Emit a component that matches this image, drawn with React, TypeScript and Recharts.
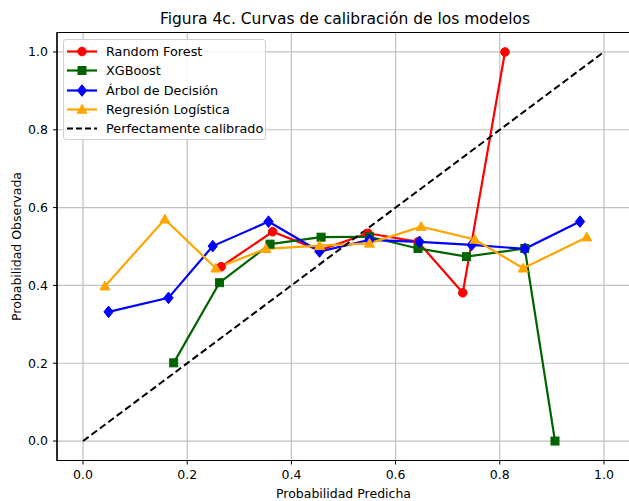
import React from 'react';
import { LineChart, Line, XAxis, YAxis, CartesianGrid, ReferenceArea } from 'recharts';

// Random Forest
const rfX = [0.265, 0.364, 0.454, 0.547, 0.643, 0.729, 0.81];
const rfY = [0.448, 0.538, 0.49, 0.534, 0.512, 0.381, 1.0];
// XGBoost
const xgbX = [0.174, 0.262, 0.359, 0.457, 0.55, 0.643, 0.736, 0.848, 0.906];
const xgbY = [0.201, 0.407, 0.506, 0.524, 0.525, 0.495, 0.474, 0.495, 0.0];
// Árbol de Decisión
const dtX = [0.049, 0.164, 0.249, 0.356, 0.454, 0.55, 0.646, 0.746, 0.848, 0.954];
const dtY = [0.332, 0.368, 0.501, 0.564, 0.487, 0.517, 0.512, 0.504, 0.494, 0.564];
// Regresión Logística
const lrX = [0.042, 0.157, 0.255, 0.351, 0.454, 0.55, 0.649, 0.752, 0.845, 0.967];
const lrY = [0.398, 0.57, 0.444, 0.494, 0.502, 0.508, 0.551, 0.518, 0.444, 0.524];
// Perfectamente calibrado
const perfX = [0, 1];
const perfY = [0, 1];

const ticks = [0, 0.2, 0.4, 0.6, 0.8, 1.0];

const seriesNames = ['Random Forest', 'XGBoost', 'Árbol de Decisión', 'Regresión Logística', 'Perfectamente calibrado'];
const colors = ['#ff0000', '#006400', '#0000ff', '#ffa500', '#000000'];

const zip = (xs: number[], ys: number[]) => xs.map((x, i) => ({ x, y: ys[i] }));

const FONT = '"DejaVu Sans", sans-serif';

type Shape = 'circle' | 'square' | 'diamond' | 'triangle' | 'none';
const shapes: Shape[] = ['circle', 'square', 'diamond', 'triangle', 'none'];

function marker(shape: Shape, cx: number, cy: number, color: string, key?: any) {
  if (shape === 'circle') return <circle key={key} cx={cx} cy={cy} r={4.3} fill={color} stroke={color} />;
  if (shape === 'square') return <rect key={key} x={cx - 4} y={cy - 4} width={8} height={8} fill={color} stroke={color} />;
  if (shape === 'diamond') {
    const s = 5.8;
    return <polygon key={key} points={`${cx},${cy - s} ${cx + s * 0.8},${cy} ${cx},${cy + s} ${cx - s * 0.8},${cy}`} fill={color} stroke={color} />;
  }
  if (shape === 'triangle') {
    const s = 5;
    return <polygon key={key} points={`${cx},${cy - s} ${cx + s},${cy + s * 0.75} ${cx - s},${cy + s * 0.75}`} fill={color} stroke={color} />;
  }
  return <g key={key} />;
}

const dotFor = (shape: Shape, color: string) => (props: any) => {
  const { cx, cy, index } = props;
  return marker(shape, cx, cy, color, `d-${index}`);
};

const Legend = () => (
  <div
    style={{
      position: 'absolute',
      left: 63,
      top: 39,
      width: 203,
      height: 101,
      border: '1px solid #d0d0d0',
      borderRadius: 3,
      background: 'rgba(255,255,255,0.85)',
      fontFamily: FONT,
      fontSize: 12.8,
      color: '#000',
      boxSizing: 'border-box',
    }}
  >
    {seriesNames.map((n, i) => (
      <div key={n} style={{ position: 'absolute', left: 0, top: 2 + i * 19.3, height: 19, display: 'flex', alignItems: 'center' }}>
        <svg width={40} height={19} style={{ display: 'block' }}>
          <line x1={3} x2={33} y1={9.5} y2={9.5} stroke={colors[i]} strokeWidth={2.2} strokeDasharray={i === 4 ? '6 3' : undefined} />
          {marker(shapes[i], 18, 9.5, colors[i])}
        </svg>
        <span style={{ marginLeft: 2, whiteSpace: 'nowrap' }}>{n}</span>
      </div>
    ))}
  </div>
);

export default function App() {
  const tickStyle = { fontSize: 12.5, fill: '#000', fontFamily: FONT };
  const labelStyle = { fontSize: 12.5, fill: '#000', fontFamily: FONT };
  const fmt = (v: number) => v.toFixed(1);
  return (
    <div style={{ position: 'absolute', left: 0, top: 0, width: 629, height: 501, overflow: 'hidden', background: '#fff' }}>
      <div
        style={{
          position: 'absolute',
          left: 0,
          width: 690,
          top: 10,
          textAlign: 'center',
          fontFamily: FONT,
          fontSize: 15.5,
          lineHeight: '18px',
          color: '#000',
          whiteSpace: 'nowrap',
        }}
      >
        Figura 4c. Curvas de calibración de los modelos
      </div>
      <div style={{ position: 'absolute', left: 0, top: 0 }}>
        <LineChart width={631} height={501} margin={{ top: 32.5, right: 1, left: 0, bottom: 0 }}>
          <CartesianGrid stroke="#c0c0c0" strokeWidth={1.2} />
          <XAxis
            type="number"
            dataKey="x"
            domain={[-0.05, 1.05]}
            ticks={ticks}
            tickFormatter={fmt}
            allowDataOverflow
            height={40.5}
            tick={tickStyle}
            tickSize={4}
            tickMargin={6}
            tickLine={{ stroke: '#000' }}
            axisLine={{ stroke: '#000' }}
            label={{ value: 'Probabilidad Predicha', position: 'insideBottom', offset: 3.5, style: labelStyle }}
          />
          <YAxis
            type="number"
            dataKey="y"
            domain={[-0.05, 1.05]}
            ticks={ticks}
            tickFormatter={fmt}
            allowDataOverflow
            width={57}
            tick={tickStyle}
            tickSize={4}
            tickMargin={5}
            tickLine={{ stroke: '#000' }}
            axisLine={{ stroke: '#000' }}
            label={{ value: 'Probabilidad Observada', angle: -90, position: 'insideLeft', offset: 16.5, style: { ...labelStyle, textAnchor: 'middle' } }}
          />
          <ReferenceArea x1={-0.05} x2={1.05} y1={-0.05} y2={1.05} fill="none" stroke="#000" strokeWidth={1.2} ifOverflow="visible" />
          <Line data={zip(rfX, rfY)} dataKey="y" stroke={colors[0]} strokeWidth={2.2} dot={dotFor('circle', colors[0])} isAnimationActive={false} />
          <Line data={zip(xgbX, xgbY)} dataKey="y" stroke={colors[1]} strokeWidth={2.2} dot={dotFor('square', colors[1])} isAnimationActive={false} />
          <Line data={zip(dtX, dtY)} dataKey="y" stroke={colors[2]} strokeWidth={2.2} dot={dotFor('diamond', colors[2])} isAnimationActive={false} />
          <Line data={zip(lrX, lrY)} dataKey="y" stroke={colors[3]} strokeWidth={2.2} dot={dotFor('triangle', colors[3])} isAnimationActive={false} />
          <Line data={zip(perfX, perfY)} dataKey="y" stroke="#000" strokeWidth={2} strokeDasharray="7 3.5" dot={false} isAnimationActive={false} />
        </LineChart>
      </div>
      <Legend />
    </div>
  );
}
